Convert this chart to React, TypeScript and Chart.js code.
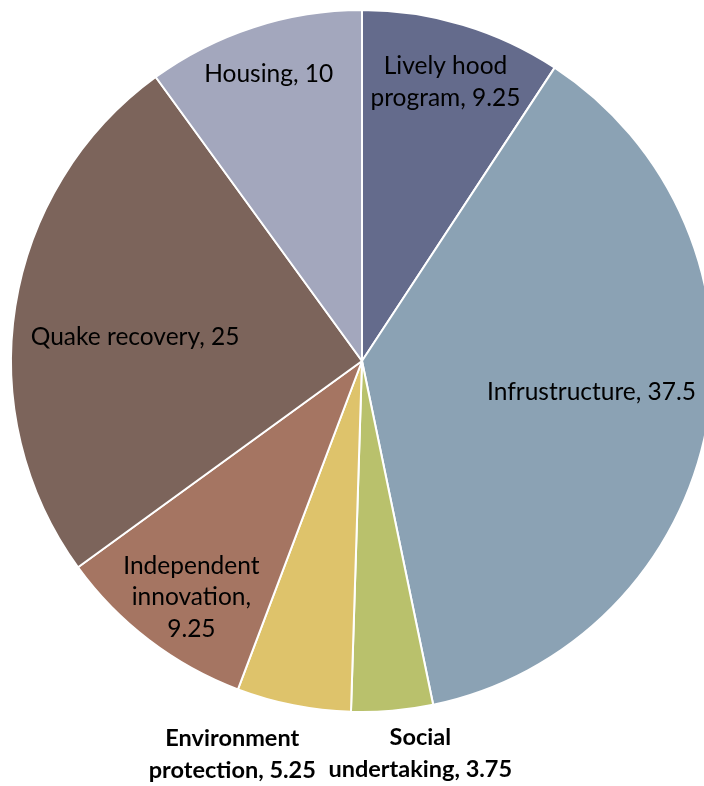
import React, { useEffect, useRef } from "react";
import { Chart, registerables } from "chart.js";

Chart.register(...registerables);

const categories = [
  "Lively hood program",
  "Infrustructure",
  "Social undertaking",
  "Environment protection",
  "Independent innovation",
  "Quake recovery",
  "Housing",
];
const values = [9.25, 37.5, 3.75, 5.25, 9.25, 25, 10];
const colors = ["#646B8C", "#8BA2B4", "#B9C16C", "#DEC36B", "#A57562", "#7C645B", "#A3A7BD"];

// label styling: line breaks (after word index), radial factor, angle nudge (deg), bold
const labelBreaks = [[2], [], [1], [1], [1, 2], [], []];
const labelRadius = [0.83, 0.66, 1.13, 1.18, 0.83, 0.65, 0.86];
const labelAngleNudge = [0, -3, -3.5, 7, -1.5, -3, 0];
const labelBold = [false, false, true, true, false, false, false];

const labelPlugin = {
  id: "sliceLabels",
  afterDatasetsDraw(chart: any) {
    const ctx = chart.ctx;
    const meta = chart.getDatasetMeta(0);
    meta.data.forEach((arc: any, i: number) => {
      const p = arc.getProps(["x", "y", "startAngle", "endAngle", "outerRadius"], true);
      const mid = (p.startAngle + p.endAngle) / 2 + (labelAngleNudge[i] * Math.PI) / 180;
      const r = p.outerRadius * labelRadius[i];
      const cx = p.x + r * Math.cos(mid);
      const cy = p.y + r * Math.sin(mid);
      const words = `${categories[i]}, ${values[i]}`.split(" ");
      const lines: string[] = [];
      let cur: string[] = [];
      words.forEach((w, k) => {
        cur.push(w);
        if (labelBreaks[i].includes(k + 1)) {
          lines.push(cur.join(" "));
          cur = [];
        }
      });
      if (cur.length) lines.push(cur.join(" "));
      ctx.save();
      ctx.font = labelBold[i] ? "bold 23.5px Lato" : "24.5px Lato";
      ctx.fillStyle = "#000";
      ctx.textAlign = "center";
      ctx.textBaseline = "middle";
      const lh = 31.5;
      lines.forEach((ln, k) => {
        ctx.fillText(ln, cx, cy + (k - (lines.length - 1) / 2) * lh);
      });
      ctx.restore();
    });
  },
};

export default function App() {
  const ref = useRef<HTMLCanvasElement | null>(null);
  useEffect(() => {
    if (!ref.current) return;
    const chart = new Chart(ref.current, {
      type: "pie",
      data: {
        labels: categories,
        datasets: [
          {
            data: values,
            backgroundColor: colors,
            borderColor: "#ffffff",
            borderWidth: 2,
          },
        ],
      },
      options: {
        responsive: false,
        animation: false,
        layout: { padding: { left: 10, top: 9, right: 10, bottom: 73 } },
        plugins: {
          legend: { display: false },
          tooltip: { enabled: false },
        },
      },
      plugins: [labelPlugin],
    });
    return () => chart.destroy();
  }, []);
  return (
    <div
      style={{
        position: "fixed",
        left: 0,
        top: 0,
        width: 704,
        height: 786,
        overflow: "hidden",
        background: "#fff",
      }}
    >
      <canvas ref={ref} width={724} height={786} style={{ display: "block", width: 724, height: 786 }} />
    </div>
  );
}
